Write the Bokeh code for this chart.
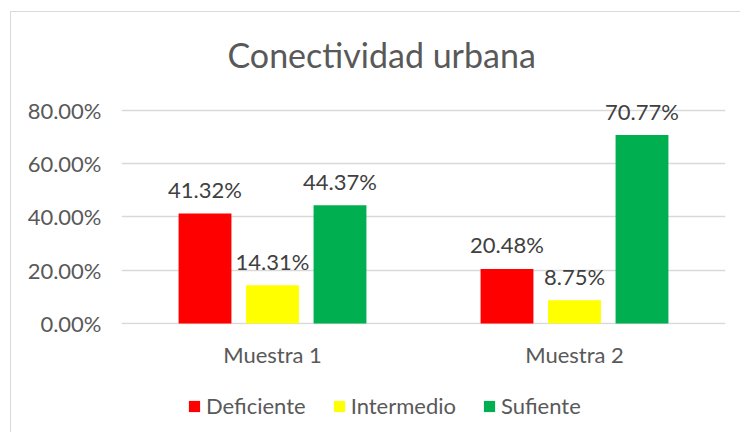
from bokeh.plotting import figure
from bokeh.layouts import column
from bokeh.models import (FactorRange, Range1d, Legend, LegendItem, ColumnDataSource,
                          PrintfTickFormatter, FixedTicker, Title)
from bokeh.core.properties import value
from bokeh.transform import dodge
from bokeh.embed import file_html
from bokeh.resources import INLINE

title_text = "Conectividad urbana"
muestras = ["Muestra 1", "Muestra 2"]
series = ["Deficiente", "Intermedio", "Sufiente"]
deficiente = [41.32, 20.48]
intermedio = [14.31, 8.75]
sufiente = [44.37, 70.77]
y_ticks = [0, 20, 40, 60, 80]
colors = ["#FF0000", "#FFFF00", "#00B050"]

FONT = "Lato"
TXT = "#595959"
FS = "22px"

xr = FactorRange(*muestras)
p = figure(x_range=xr, y_range=Range1d(-0.4, 84.5),
           width=729, height=360, output_backend="svg", toolbar_location=None,
           min_border_left=110, min_border_right=15, min_border_top=86, min_border_bottom=48)

p.title.text = title_text
p.title.align = "left"
p.title.offset = 106
p.title.standoff = 0
p.title.text_font = FONT
p.title.text_font_size = "34px"
p.title.text_font_style = "normal"
p.title.text_color = TXT

# spacer between the title and the plot area
p.add_layout(Title(text=" ", text_font_size="1px", standoff=21), "above")

# separate strip holding the legend (its bars lie outside its visible range)
lg = figure(width=729, height=60, output_backend="svg", toolbar_location=None,
            x_range=xr, y_range=Range1d(1000, 1001),
            x_axis_type=None, y_axis_type=None,
            min_border_left=0, min_border_right=0, min_border_top=0, min_border_bottom=0)
lg.grid.visible = False
lg.outline_line_color = None

offsets = [-0.2235, 0.0, 0.2235]
values = [deficiente, intermedio, sufiente]
items = []
for name, vals, col, off in zip(series, values, colors, offsets):
    src = ColumnDataSource(dict(x=muestras, top=vals, label=[f"{v:.2f}%" for v in vals]))
    p.vbar(x=dodge("x", off, range=xr), top="top", width=0.175, source=src,
           fill_color=col, line_color=None)
    p.text(x=dodge("x", off, range=xr), y="top", text="label", source=src,
           text_align="center", text_baseline="alphabetic", y_offset=-24,
           text_font=value(FONT), text_font_size=value(FS), text_color="#404040")
    swatch = lg.vbar(x=dodge("x", off, range=xr), top="top", width=0.175, source=src,
                     fill_color=col, line_color=None)
    items.append(LegendItem(label=name, renderers=[swatch]))

p.yaxis.ticker = FixedTicker(ticks=y_ticks)
p.yaxis.formatter = PrintfTickFormatter(format="%.2f%%")
for ax in (p.xaxis, p.yaxis):
    ax.axis_line_color = None
    ax.major_tick_line_color = None
    ax.minor_tick_line_color = None
    ax.major_tick_out = 0
    ax.major_tick_in = 0
    ax.minor_tick_out = 0
    ax.major_label_text_font = FONT
    ax.major_label_text_font_size = FS
    ax.major_label_text_color = TXT
p.yaxis.major_label_standoff = 20
p.xaxis.major_label_standoff = 16

p.xgrid.grid_line_color = None
p.ygrid.grid_line_color = "#d9d9d9"
p.ygrid.grid_line_width = 1.3
p.outline_line_color = None

legend = Legend(items=items, orientation="horizontal", location=(66, 13),
                border_line_color=None, background_fill_alpha=0, padding=0, margin=0,
                glyph_width=14, glyph_height=14, label_standoff=5, spacing=26,
                label_text_font=FONT, label_text_font_size=FS, label_text_color=TXT)
lg.add_layout(legend, "center")

layout = column(p, lg, spacing=0,
                styles={"margin-left": "10px", "margin-top": "11px",
                        "border-left": "1px solid #d9d9d9", "border-top": "1px solid #d9d9d9"})

open("out.html", "w").write(file_html(layout, INLINE))
